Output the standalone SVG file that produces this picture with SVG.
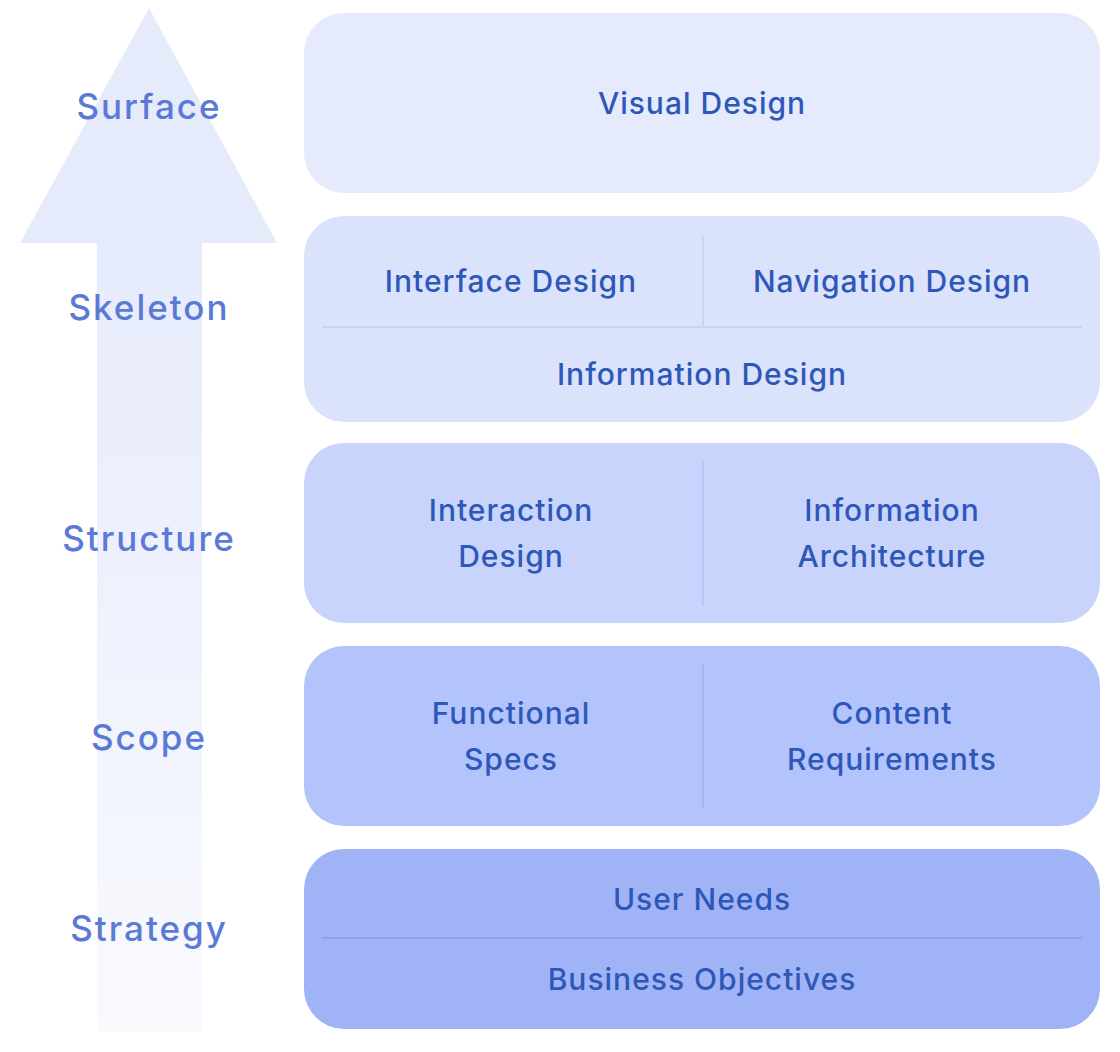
<svg xmlns="http://www.w3.org/2000/svg" width="1120" height="1052" viewBox="0 0 1120 1052">
<defs>
<linearGradient id="shaft" x1="0" y1="0" x2="0" y2="1">
<stop offset="0" stop-color="#e6ebfc"/>
<stop offset="1" stop-color="#f9fafe"/>
</linearGradient>
<style>
.lbl{font-family:Inter,"Liberation Sans",sans-serif;font-size:35px;font-weight:500;fill:#5b7ad6;text-anchor:middle;letter-spacing:2px}
.t{font-family:Inter,"Liberation Sans",sans-serif;font-size:30px;font-weight:500;fill:#2d58b8;text-anchor:middle;letter-spacing:1px}
.div{stroke-width:2;fill:none}
</style>
</defs>
<rect width="1120" height="1052" fill="#ffffff"/>
<g id="arrow">
<rect x="97" y="240" width="105" height="792" fill="url(#shaft)"/>
<polygon points="149,8 277,243 20,243" fill="#e6ebfc"/>
</g>
<g id="labels">
<text class="lbl" x="149" y="119">Surface</text>
<text class="lbl" x="149" y="320">Skeleton</text>
<text class="lbl" x="149" y="551">Structure</text>
<text class="lbl" x="149" y="750">Scope</text>
<text class="lbl" x="149" y="941">Strategy</text>
</g>
<g id="surface">
<rect x="304" y="13" width="796" height="180" rx="40" fill="#e5eafd"/>
<text class="t" x="702" y="114">Visual Design</text>
</g>
<g id="skeleton">
<rect x="304" y="216" width="796" height="206" rx="40" fill="#dbe2fc"/>
<line class="div" x1="703" y1="235" x2="703" y2="326" stroke="#c9d4f8"/>
<line class="div" x1="322" y1="327" x2="1082" y2="327" stroke="#c9d4f8"/>
<text class="t" x="511" y="292">Interface Design</text>
<text class="t" x="892" y="292">Navigation Design</text>
<text class="t" x="702" y="385">Information Design</text>
</g>
<g id="structure">
<rect x="304" y="443" width="796" height="180" rx="40" fill="#c9d4fc"/>
<line class="div" x1="703" y1="461" x2="703" y2="606" stroke="#b9c6f7"/>
<text class="t" x="511" y="521">Interaction</text>
<text class="t" x="511" y="567">Design</text>
<text class="t" x="892" y="521">Information</text>
<text class="t" x="892" y="567">Architecture</text>
</g>
<g id="scope">
<rect x="304" y="646" width="796" height="180" rx="40" fill="#b3c3fc"/>
<line class="div" x1="703" y1="664" x2="703" y2="808" stroke="#a4b5f2"/>
<text class="t" x="511" y="724">Functional</text>
<text class="t" x="511" y="770">Specs</text>
<text class="t" x="892" y="724">Content</text>
<text class="t" x="892" y="770">Requirements</text>
</g>
<g id="strategy">
<rect x="304" y="849" width="796" height="180" rx="40" fill="#a0b3f6"/>
<line class="div" x1="322" y1="938" x2="1082" y2="938" stroke="#8da2ea"/>
<text class="t" x="702" y="910">User Needs</text>
<text class="t" x="702" y="990">Business Objectives</text>
</g>
<g id="connectors"></g>
</svg>
